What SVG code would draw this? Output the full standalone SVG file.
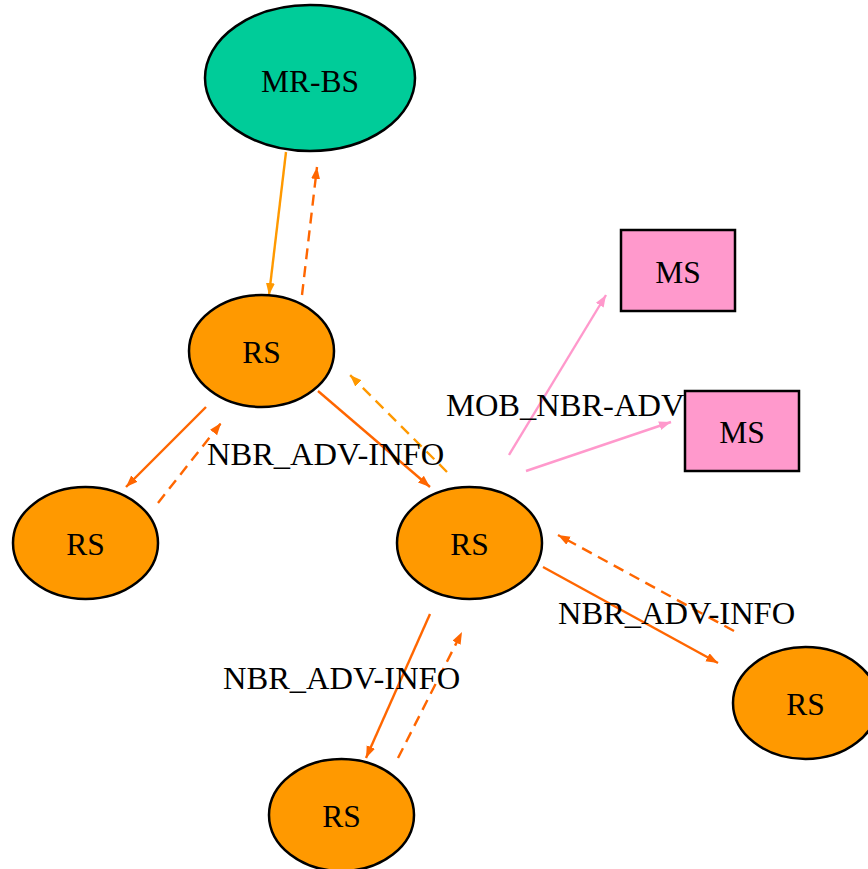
<svg xmlns="http://www.w3.org/2000/svg" width="868" height="869" viewBox="0 0 868 869">
<style>
  .node { stroke: #000; stroke-width: 2.5; }
  .bs { fill: #00CC99; }
  .rs { fill: #FF9900; }
  .ms { fill: #FF99CC; }
  .t { font-family: "Liberation Serif", "Times New Roman", serif; font-size: 31.5px; fill: #000; text-anchor: middle; }
  .lbl { font-family: "Liberation Serif", "Times New Roman", serif; font-size: 32.5px; fill: #000; }
  .e { fill: none; stroke-width: 2.4; }
  .dk { stroke: #FF6600; }
  .lt { stroke: #FF9900; }
  .pk { stroke: #FF99CC; }
  .dash { stroke-dasharray: 11 7; }
</style>
<defs>
  <marker id="aDk" markerUnits="userSpaceOnUse" markerWidth="13" markerHeight="10" refX="12" refY="4.5" orient="auto"><path d="M0,0 L12,4.5 L0,9 z" fill="#FF6600"/></marker>
  <marker id="aLt" markerUnits="userSpaceOnUse" markerWidth="13" markerHeight="10" refX="12" refY="4.5" orient="auto"><path d="M0,0 L12,4.5 L0,9 z" fill="#FF9900"/></marker>
  <marker id="aPk" markerUnits="userSpaceOnUse" markerWidth="13" markerHeight="10" refX="12" refY="4.5" orient="auto"><path d="M0,0 L12,4.5 L0,9 z" fill="#FF99CC"/></marker>
</defs>
<rect width="868" height="869" fill="#fff"/>
<g id="connectors">
  <line class="e lt" x1="286" y1="152" x2="269" y2="295" marker-end="url(#aLt)"/>
  <line class="e dk dash" x1="302" y1="295" x2="317" y2="167" marker-end="url(#aDk)"/>
  <line class="e dk" x1="206" y1="407" x2="126" y2="487" marker-end="url(#aDk)"/>
  <line class="e dk dash" x1="158" y1="503" x2="221" y2="423" marker-end="url(#aDk)"/>
  <line class="e dk" x1="318" y1="391" x2="430" y2="487" marker-end="url(#aDk)"/>
  <line class="e lt dash" x1="447" y1="472" x2="350" y2="375" marker-end="url(#aLt)"/>
  <line class="e pk" x1="509" y1="455" x2="606" y2="295" marker-end="url(#aPk)"/>
  <line class="e pk" x1="526" y1="471" x2="671" y2="422" marker-end="url(#aPk)"/>
  <line class="e dk" x1="430" y1="614" x2="366" y2="758" marker-end="url(#aDk)"/>
  <line class="e dk dash" x1="398" y1="758" x2="462" y2="632" marker-end="url(#aDk)"/>
  <line class="e dk" x1="543" y1="567" x2="718" y2="663" marker-end="url(#aDk)"/>
  <line class="e dk dash" x1="734" y1="631" x2="558" y2="535" marker-end="url(#aDk)"/>
  <text class="lbl" x="207" y="465">NBR_ADV-INFO</text>
  <text class="lbl" x="446" y="416">MOB_NBR-ADV</text>
  <text class="lbl" x="223" y="689">NBR_ADV-INFO</text>
  <text class="lbl" x="558" y="624">NBR_ADV-INFO</text>
</g>
<g id="mrbs"><ellipse class="node bs" cx="310" cy="78" rx="105" ry="73"/><text class="t" x="310" y="92">MR-BS</text></g>
<g id="rs_top"><ellipse class="node rs" cx="261.5" cy="351" rx="72.5" ry="56"/><text class="t" x="261.5" y="363">RS</text></g>
<g id="rs_left"><ellipse class="node rs" cx="85.5" cy="543" rx="72.5" ry="56"/><text class="t" x="85.5" y="555">RS</text></g>
<g id="rs_center"><ellipse class="node rs" cx="469.5" cy="543" rx="72.5" ry="56"/><text class="t" x="469.5" y="555">RS</text></g>
<g id="rs_bottom"><ellipse class="node rs" cx="341.5" cy="815" rx="72.5" ry="56"/><text class="t" x="341.5" y="827">RS</text></g>
<g id="rs_right"><ellipse class="node rs" cx="805.5" cy="703" rx="72.5" ry="56"/><text class="t" x="805.5" y="715">RS</text></g>
<g id="ms_top"><rect class="node ms" x="621" y="230" width="114" height="81"/><text class="t" x="678" y="283">MS</text></g>
<g id="ms_bottom"><rect class="node ms" x="685" y="391" width="114" height="80"/><text class="t" x="742" y="443">MS</text></g>
</svg>
